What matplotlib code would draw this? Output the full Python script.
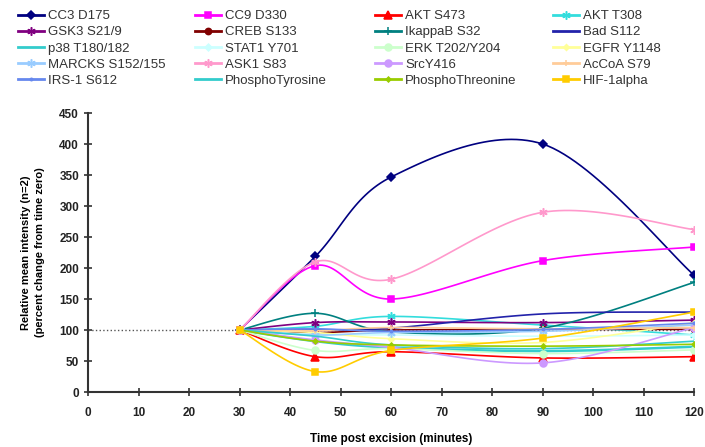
import numpy as np
import matplotlib.pyplot as plt

plt.rcParams['font.family'] = ['Liberation Sans', 'DejaVu Sans']

times = [30, 45, 60, 90, 120]

# series in legend order (row by row, four per row)
names = ['CC3 D175', 'CC9 D330', 'AKT S473', 'AKT T308',
         'GSK3 S21/9', 'CREB S133', 'IkappaB S32', 'Bad S112',
         'p38 T180/182', 'STAT1 Y701', 'ERK T202/Y204', 'EGFR Y1148',
         'MARCKS S152/155', 'ASK1 S83', 'SrcY416', 'AcCoA S79',
         'IRS-1 S612', 'PhosphoTyrosine', 'PhosphoThreonine', 'HIF-1alpha']

cc3 = [100, 219, 347, 400, 188]
cc9 = [100, 204, 150, 212, 234]
akt_s473 = [100, 57, 65, 55, 57]
akt_t308 = [100, 106, 122, 108, 92]
gsk3 = [100, 112, 113, 112, 116]
creb = [100, 96, 100, 101, 101]
ikappab = [100, 127, 97, 103, 177]
bad = [100, 100, 103, 126, 129]
p38 = [100, 82, 72, 66, 73]
stat1 = [100, 93, 92, 90, 92]
erk = [100, 67, 70, 62, 68]
egfr = [100, 96, 86, 80, 112]
marcks = [100, 92, 96, 98, 108]
ask1 = [100, 210, 182, 290, 262]
src = [100, 84, 72, 47, 104]
accoa = [100, 99, 104, 102, 104]
irs1 = [100, 102, 98, 101, 111]
ptyr = [100, 90, 76, 70, 82]
pthr = [100, 82, 76, 74, 77]
hif = [100, 33, 67, 87, 129]

values = [cc3, cc9, akt_s473, akt_t308, gsk3, creb, ikappab, bad,
          p38, stat1, erk, egfr, marcks, ask1, src, accoa,
          irs1, ptyr, pthr, hif]

asterisk = (6, 2, 0)
styles = [
    dict(color='#000080', marker='D', ms=4.5),
    dict(color='#FF00FF', marker='s', ms=5),
    dict(color='#FF0000', marker='^', ms=5.5),
    dict(color='#33DDDD', marker=asterisk, ms=6),
    dict(color='#800080', marker=asterisk, ms=6),
    dict(color='#800000', marker='o', ms=4.5),
    dict(color='#008080', marker='+', ms=6),
    dict(color='#2222AA', marker=None, ms=0),
    dict(color='#33CCCC', marker=None, ms=0, lw=1.8),
    dict(color='#CCFFFF', marker='D', ms=3.5),
    dict(color='#CCFFCC', marker='o', ms=5),
    dict(color='#FFFF99', marker='D', ms=3),
    dict(color='#99CCFF', marker=asterisk, ms=6),
    dict(color='#FF99CC', marker=asterisk, ms=6),
    dict(color='#CC99FF', marker='o', ms=5),
    dict(color='#FFCC99', marker='+', ms=5),
    dict(color='#6688EE', marker='.', ms=3.5),
    dict(color='#33CCCC', marker=None, ms=0),
    dict(color='#99CC00', marker='D', ms=2.5),
    dict(color='#FFCC00', marker='s', ms=5),
]


def smooth(xs, ys, n=30):
    # Excel-like smoothed line: cubic Bezier with Catmull-Rom control points
    p = np.column_stack([xs, ys]).astype(float)
    p = np.vstack([p[0], p, p[-1]])
    pts = [p[1]]
    idx = [0]
    t = np.linspace(0, 1, n + 1)[1:, None]
    for i in range(1, len(p) - 2):
        p0, p1, p2, p3 = p[i - 1], p[i], p[i + 1], p[i + 2]
        c1 = p1 + (p2 - p0) / 6
        c2 = p2 - (p3 - p1) / 6
        seg = ((1 - t) ** 3) * p1 + 3 * ((1 - t) ** 2) * t * c1 + 3 * (1 - t) * t ** 2 * c2 + t ** 3 * p2
        pts.extend(seg)
        idx.append(len(pts) - 1)
    pts = np.array(pts)
    return pts[:, 0], pts[:, 1], idx


fig = plt.figure(figsize=(7.05, 4.47), dpi=100)
ax = fig.add_axes([0.125, 0.123, 0.860, 0.624])

handles = []
for name, vals, st in zip(names, values, styles):
    sx, sy, idx = smooth(times, vals)
    line, = ax.plot(sx, sy, color=st['color'], lw=st.get('lw', 1.2),
                    marker=st['marker'], ms=st['ms'], markevery=idx,
                    mec=st['color'], mfc=st['color'], mew=1.1,
                    label=name, zorder=3)
    handles.append(line)

ax.axhline(100, color='#555555', ls=':', lw=1.0, zorder=2)

ax.set_xlim(0, 120)
ax.set_ylim(0, 450)
ax.set_xticks(range(0, 121, 10))
ax.set_yticks(range(0, 451, 50))
for s in ['top', 'right']:
    ax.spines[s].set_visible(False)
for s in ['left', 'bottom']:
    ax.spines[s].set_color('#333333')
    ax.spines[s].set_linewidth(1.5)
ax.tick_params(direction='inout', length=6, width=1.2, color='#333333',
               labelsize=8.5, labelcolor='#222222')
ax.tick_params(axis='x', pad=8)
for lab in ax.get_xticklabels() + ax.get_yticklabels():
    lab.set_fontweight('bold')

ax.set_xlabel('Time post excision (minutes)', fontsize=8.5, fontweight='bold', labelpad=10)
ax.set_ylabel('Relative mean intensity (n=2)\n(percent change from time zero)',
              fontsize=8, fontweight='bold', labelpad=10, linespacing=1.6)

# legend: four columns filled row by row, one legend per column
ncol = 4
col_x = [18, 195, 375, 553]
for c in range(ncol):
    ids = list(range(c, len(names), ncol))
    leg = fig.legend([handles[i] for i in ids], [names[i] for i in ids],
                     loc='upper left', bbox_to_anchor=(col_x[c] / 705, 1 - 10 / 447),
                     frameon=False, fontsize=9.5, numpoints=1, handlelength=2.0,
                     handletextpad=0.3, labelspacing=0.3, borderpad=0,
                     borderaxespad=0)
    for text in leg.get_texts():
        text.set_color('#333333')
    for h in leg.legend_handles:
        h.set_linewidth(2.0)

fig.savefig('out.png', dpi=100)
